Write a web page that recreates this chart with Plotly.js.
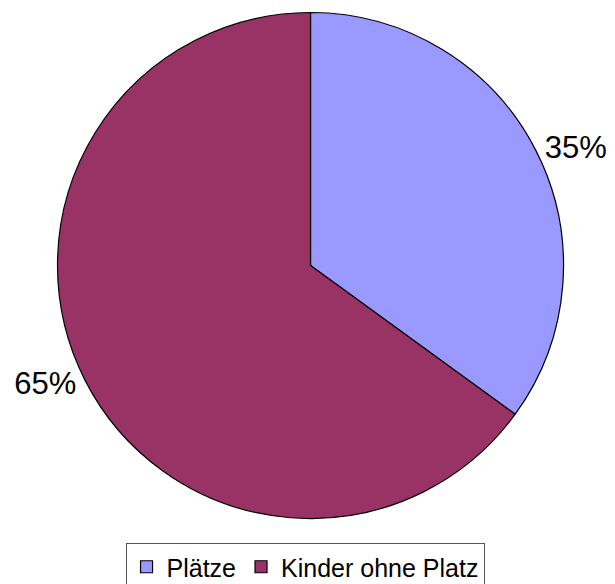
<!DOCTYPE html>
<html><head><meta charset="utf-8">
<script src="https://cdn.plot.ly/plotly-3.0.1.min.js"></script>
<style>html,body{margin:0;padding:0;background:#fff;overflow:hidden}</style>
</head><body>
<div id="chart" style="width:615px;height:600px"></div>
<script>
const labels = ["Plätze", "Kinder ohne Platz"];
const values = [35, 65];
const colors = ["#9999FF", "#993366"];

Plotly.newPlot("chart", [{
  type: "pie",
  labels: labels,
  values: values,
  sort: false,
  direction: "clockwise",
  rotation: 0,
  marker: {colors: colors, line: {color: "#000", width: 1.2}},
  textinfo: "percent",
  texttemplate: "%{percent:.0%}",
  textposition: "outside",
  outsidetextfont: {family: "Liberation Sans, Arial, sans-serif", size: 31, color: "#000"},
  domain: {x: [0.0935, 0.9163], y: [0.1358, 0.9792]},
  automargin: false,
  hoverinfo: "none"
}], {
  width: 615, height: 600,
  margin: {l: 0, r: 0, t: 0, b: 0},
  paper_bgcolor: "#fff",
  showlegend: true,
  legend: {
    orientation: "h", x: 0.496, xanchor: "center", y: 0.095, yanchor: "top",
    font: {family: "Liberation Sans, Arial, sans-serif", size: 25, color: "#000"},
    bordercolor: "#555", borderwidth: 1, bgcolor: "#fff",
    itemwidth: 30, traceorder: "normal"
  },
  font: {family: "Liberation Sans, Arial, sans-serif"}
}, {displayModeBar: false, staticPlot: true});
</script>
</body></html>
